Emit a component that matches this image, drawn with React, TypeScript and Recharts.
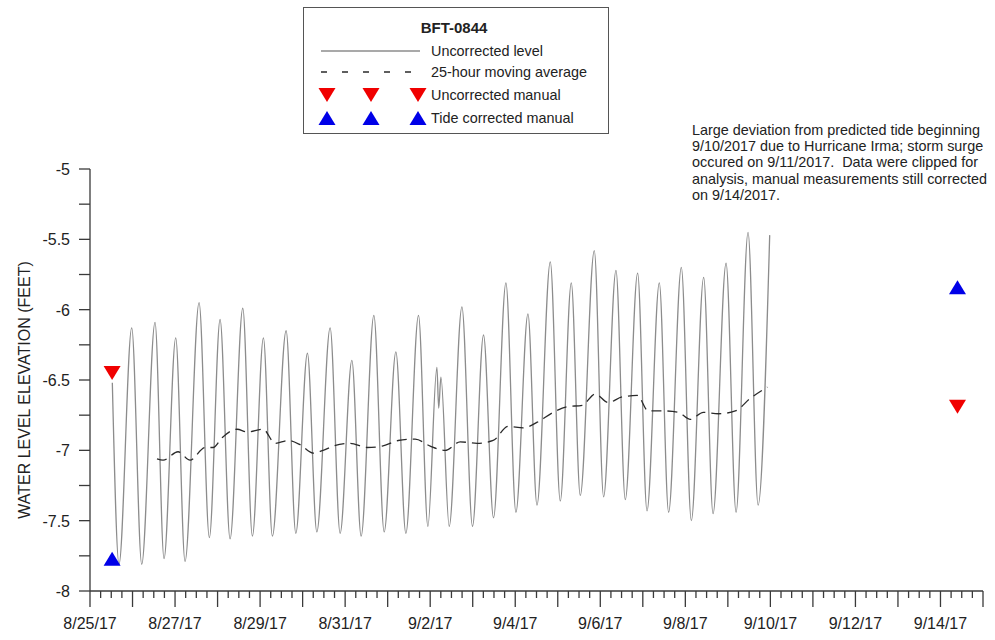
import React from 'react';
import { ComposedChart, Line, Scatter, XAxis, YAxis } from 'recharts';

const FONT = '"Liberation Sans", Arial, sans-serif';

// Time is measured in days since 8/25/2017 00:00.
const levelDays = [
  0.525, 0.682, 0.981, 1.216, 1.529, 1.741, 2.016, 2.235, 2.565, 2.807,
  3.059, 3.294, 3.593, 3.819, 4.078, 4.289, 4.612, 4.84, 5.113, 5.334,
  5.647, 5.882, 6.158, 6.376, 6.675, 6.918, 7.193, 7.428, 7.725, 7.946,
  8.158, 8.2, 8.252, 8.447, 8.746, 8.995, 9.254, 9.489, 9.781, 10.016,
  10.299, 10.511, 10.824, 11.059, 11.318, 11.529, 11.859, 12.078, 12.369, 12.588,
  12.878, 13.099, 13.388, 13.607, 13.906, 14.141, 14.431, 14.652, 14.958, 15.193,
  15.475, 15.711, 15.984,
];
const levelFeet = [
  -6.52, -7.81, -6.13, -7.81, -6.09, -7.77, -6.2, -7.79, -5.95, -7.62,
  -6.07, -7.63, -5.99, -7.61, -6.2, -7.61, -6.15, -7.59, -6.31, -7.58,
  -6.13, -7.59, -6.36, -7.61, -6.04, -7.58, -6.3, -7.59, -6.04, -7.54,
  -6.41, -6.7, -6.48, -7.54, -5.98, -7.54, -6.18, -7.48, -5.81, -7.44,
  -6.03, -7.39, -5.66, -7.36, -5.81, -7.32, -5.58, -7.33, -5.72, -7.35,
  -5.74, -7.43, -5.81, -7.44, -5.7, -7.5, -5.77, -7.45, -5.67, -7.44,
  -5.45, -7.39, -5.47,
];

const avgDays = [
  1.576, 1.718, 2.071, 2.353, 2.706, 2.894, 3.106, 3.459, 3.694, 4.071,
  4.353, 4.659, 4.941, 5.247, 5.482, 5.718, 6.118, 6.518, 6.871, 7.247,
  7.647, 8.0, 8.353, 8.706, 9.106, 9.482, 9.835, 10.188, 10.518, 10.894,
  11.224, 11.576, 11.882, 12.188, 12.518, 12.871, 13.129, 13.529, 13.835, 14.118,
  14.424, 14.776, 15.176, 15.529, 15.929,
];
const avgFeet = [
  -7.06, -7.07, -7.01, -7.07, -6.98, -6.98, -6.91, -6.85, -6.87, -6.85,
  -6.95, -6.93, -6.96, -7.02, -7.0, -6.97, -6.95, -6.98, -6.97, -6.93,
  -6.92, -6.97, -7.0, -6.94, -6.95, -6.93, -6.83, -6.84, -6.8, -6.73,
  -6.69, -6.68, -6.6, -6.66, -6.62, -6.61, -6.72, -6.72, -6.73, -6.78,
  -6.73, -6.74, -6.72, -6.63, -6.55,
];

const uncorrectedManualDays = [0.52, 20.4];
const uncorrectedManualFeet = [-6.45, -6.69];
const correctedManualDays = [0.52, 20.4];
const correctedManualFeet = [-7.77, -5.84];

const dateLabels = [
  '8/25/17', '8/27/17', '8/29/17', '8/31/17', '9/2/17', '9/4/17',
  '9/6/17', '9/8/17', '9/10/17', '9/12/17', '9/14/17',
];
const yLabels = ['-8', '-7.5', '-7', '-6.5', '-6', '-5.5', '-5'];

const X_MIN = 0;
const X_MAX = 21;
const Y_MIN = -8;
const Y_MAX = -5;

// six-hour minor ticks, daily major ticks
const xTicks = Array.from({ length: (X_MAX - X_MIN) * 4 + 1 }, (_, i) => X_MIN + i / 4);
const yTicks = Array.from({ length: (Y_MAX - Y_MIN) * 4 + 1 }, (_, i) => Y_MIN + i / 4);

const pair = (days: number[], feet: number[]) => days.map((t, i) => ({ t, v: feet[i] }));
const levelData = pair(levelDays, levelFeet);
const avgData = pair(avgDays, avgFeet);
const uncorrectedData = pair(uncorrectedManualDays, uncorrectedManualFeet);
const correctedData = pair(correctedManualDays, correctedManualFeet);

const AXIS = '#3a3a3a';
const TEXT = '#222';
const LEVEL = '#8c8c8c';
const AVG = '#2a2a2a';
const RED = '#f00000';
const BLUE = '#0000e8';

const Triangle = ({ cx, cy, down, color }: { cx: number; cy: number; down: boolean; color: string }) => {
  const w = 8.5;
  const h = 7;
  const pts = down
    ? `${cx - w},${cy - h} ${cx + w},${cy - h} ${cx},${cy + h}`
    : `${cx - w},${cy + h} ${cx + w},${cy + h} ${cx},${cy - h}`;
  return <polygon points={pts} fill={color} />;
};

const XTick = (props: any) => {
  const { x, y, payload } = props;
  const d = payload.value as number;
  const isDay = Math.abs(d - Math.round(d)) < 1e-6;
  const dayIdx = Math.round(d);
  const label = isDay && dayIdx % 2 === 0 ? dateLabels[dayIdx / 2] : null;
  return (
    <g>
      <line x1={x} x2={x} y1={y} y2={y + (isDay ? 16 : 7)} stroke={AXIS} strokeWidth={1.3} />
      {label && (
        <text x={x} y={y + 38} textAnchor="middle" fontSize={16} fontFamily={FONT} fill={TEXT}>
          {label}
        </text>
      )}
    </g>
  );
};

const YTick = (props: any) => {
  const { x, y, payload } = props;
  const v = payload.value as number;
  const idx = Math.round((v - Y_MIN) * 2);
  const isHalf = Math.abs((v - Y_MIN) * 2 - idx) < 1e-6;
  return (
    <g>
      <line x1={x - 11} x2={x} y1={y} y2={y} stroke={AXIS} strokeWidth={1.3} />
      {isHalf && (
        <text x={x - 20} y={y + 6} textAnchor="end" fontSize={16} fontFamily={FONT} fill={TEXT}>
          {yLabels[idx]}
        </text>
      )}
    </g>
  );
};

const LegendBox = () => (
  <svg
    width={306}
    height={127}
    style={{ position: 'absolute', left: 303, top: 7, overflow: 'visible' }}
  >
    <rect x={0.5} y={0.5} width={305} height={126} fill="#fff" stroke="#555" strokeWidth={1} />
    <text x={151} y={26} textAnchor="middle" fontSize={15} fontWeight="bold" fontFamily={FONT} fill={TEXT}>
      BFT-0844
    </text>
    <line x1={18} x2={117} y1={44} y2={44} stroke={LEVEL} strokeWidth={1.3} />
    <line x1={18} x2={120} y1={65} y2={65} stroke={AVG} strokeWidth={1.3} strokeDasharray="6 15" />
    {[24, 68, 115].map((cx) => (
      <Triangle key={`r${cx}`} cx={cx} cy={88} down color={RED} />
    ))}
    {[24, 68, 115].map((cx) => (
      <Triangle key={`b${cx}`} cx={cx} cy={111} down={false} color={BLUE} />
    ))}
    {['Uncorrected level', '25-hour moving average', 'Uncorrected manual', 'Tide corrected manual'].map(
      (s, i) => (
        <text key={s} x={128} y={[49, 70, 93, 116][i]} fontSize={14.4} fontFamily={FONT} fill={TEXT}>
          {s}
        </text>
      ),
    )}
  </svg>
);

export default function App() {
  return (
    <div style={{ position: 'absolute', left: 0, top: 0, width: 995, height: 640, background: '#fff' }}>
      <ComposedChart width={995} height={640} margin={{ top: 169, right: 12, bottom: 0, left: 0 }}>
        <XAxis
          dataKey="t"
          type="number"
          domain={[X_MIN, X_MAX]}
          ticks={xTicks}
          interval={0}
          height={49}
          tickSize={0}
          tickMargin={0}
          tickLine={false}
          axisLine={{ stroke: AXIS, strokeWidth: 1.3 }}
          tick={XTick}
          allowDataOverflow
        />
        <YAxis
          dataKey="v"
          type="number"
          domain={[Y_MIN, Y_MAX]}
          ticks={yTicks}
          interval={0}
          width={90}
          tickSize={0}
          tickMargin={0}
          tickLine={false}
          axisLine={{ stroke: AXIS, strokeWidth: 1.3 }}
          tick={YTick}
          allowDataOverflow
          label={{
            content: () => (
              <text
                x={30}
                y={390}
                transform="rotate(-90 30 390)"
                textAnchor="middle"
                fontSize={16}
                fontFamily={FONT}
                fill={TEXT}
              >
                WATER LEVEL ELEVATION (FEET)
              </text>
            ),
          }}
        />
        <Line
          data={levelData}
          dataKey="v"
          type="monotoneX"
          stroke={LEVEL}
          strokeWidth={1.3}
          dot={false}
          activeDot={false}
          isAnimationActive={false}
        />
        <Line
          data={avgData}
          dataKey="v"
          type="monotoneX"
          stroke={AVG}
          strokeWidth={1.3}
          strokeDasharray="10 6"
          dot={false}
          activeDot={false}
          isAnimationActive={false}
        />
        <Scatter
          data={uncorrectedData}
          dataKey="v"
          isAnimationActive={false}
          shape={(p: any) => <Triangle cx={p.cx} cy={p.cy} down color={RED} />}
        />
        <Scatter
          data={correctedData}
          dataKey="v"
          isAnimationActive={false}
          shape={(p: any) => <Triangle cx={p.cx} cy={p.cy} down={false} color={BLUE} />}
        />
      </ComposedChart>
      <LegendBox />
      <div
        style={{
          position: 'absolute',
          left: 692,
          top: 122,
          fontFamily: FONT,
          fontSize: 14.4,
          lineHeight: '16.2px',
          color: TEXT,
          whiteSpace: 'nowrap',
        }}
      >
        Large deviation from predicted tide beginning
        <br />
        9/10/2017 due to Hurricane Irma; storm surge
        <br />
        occured on 9/11/2017.&nbsp; Data were clipped for
        <br />
        analysis, manual measurements still corrected
        <br />
        on 9/14/2017.
      </div>
    </div>
  );
}
